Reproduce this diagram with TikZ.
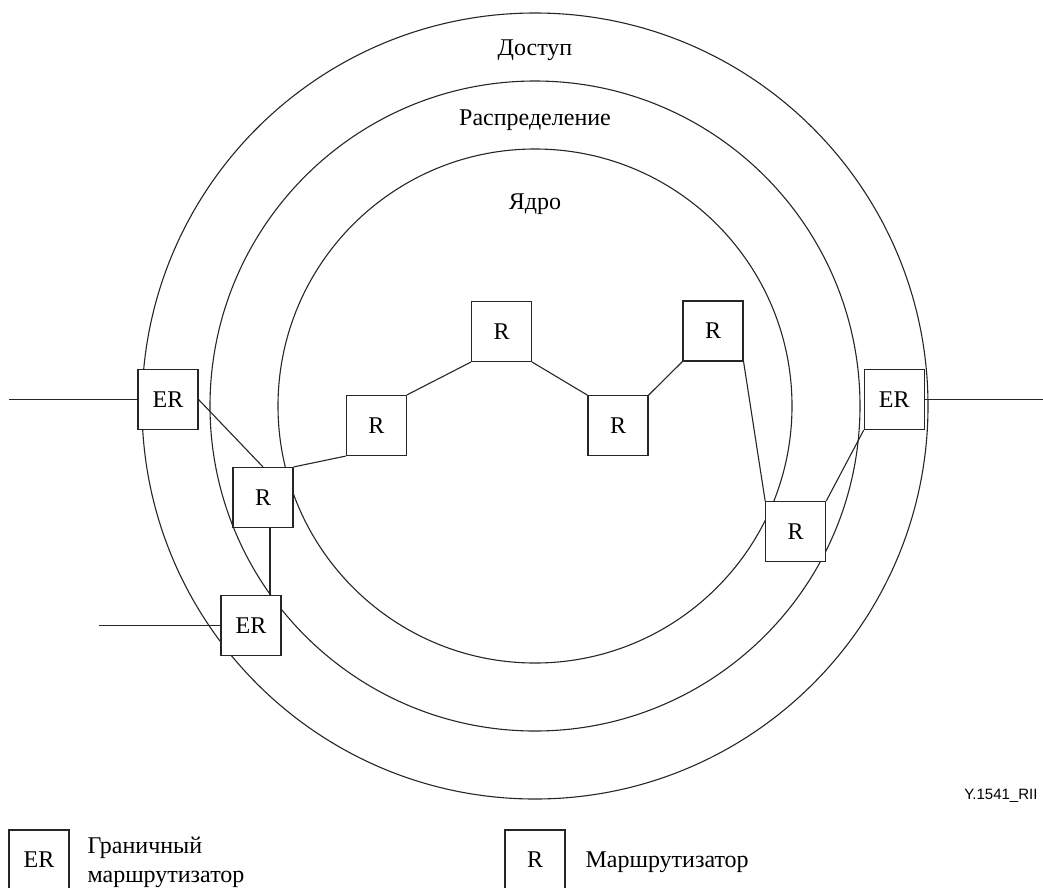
\documentclass[tikz,border=0pt]{standalone}
\usepackage{fontspec}
\setmainfont{Liberation Serif}
\newfontfamily\idfont{Liberation Sans}
\begin{document}
\begin{tikzpicture}[x=1pt,y=-1pt, line width=1.1pt, draw=black!85,
  font=\fontsize{24}{29}\selectfont,
  box/.style={draw=black!85, fill=white, minimum size=60pt, inner sep=0pt},
  lbl/.style={anchor=base, inner sep=0pt}]
\useasboundingbox (0,0) rectangle (1043,887);
% rings
\draw (535,406) circle[radius=393];
\draw (535,406) circle[radius=325];
\draw (535,406) circle[radius=257];
% ring labels
\node[lbl] (tA) at (535,55) {Доступ};
\node[lbl] (tD) at (535,125) {Распределение};
\node[lbl] (tC) at (535,209) {Ядро};
% routers
\node[box] (ER1) at (168,399.5) {ER};
\node[box] (R2) at (263,497.5) {R};
\node[box] (ER2) at (251,625.7) {ER};
\node[box] (R3) at (376.3,425.5) {R};
\node[box] (R4) at (501.5,331.5) {R};
\node[box] (R5) at (618,425.7) {R};
\node[box] (R6) at (713,331) {R};
\node[box] (R7) at (795.7,531.5) {R};
\node[box] (ER3) at (894.3,399.5) {ER};
% external links
\coordinate (inL) at (9,399.5);
\coordinate (inL2) at (99,625.7);
\coordinate (outR) at (1043,399.5);
\draw (inL) -- (ER1.west);
\draw (inL2) -- (ER2.west);
\draw (ER3.east) -- (outR);
% internal links
\draw (ER1.east) -- (R2.north);
\draw (R2.north east) -- (R3.south west);
\draw (R3.north east) -- (R4.south west);
\draw (R4.south east) -- (R5.north west);
\draw (R5.north east) -- (R6.south west);
\draw (R6.south east) -- (R7.north west);
\draw (R7.north east) -- (ER3.south west);
\coordinate (v) at ([xshift=7pt]R2.south);
\draw (v) -- (v |- ER2.north);
% figure id
\node[anchor=base east, inner sep=0pt, font=\idfont\fontsize{15}{18}\selectfont] (fid) at (1038,799) {Y.1541\_RII};
% legend
\node[box] (lgER) at (39,860) {ER};
\node[anchor=west, align=left, inner sep=0pt] (lgERt) at (87,862) {Граничный\\маршрутизатор};
\node[box] (lgR) at (535,860) {R};
\node[anchor=west, inner sep=0pt] (lgRt) at (585,862) {Маршрутизатор};
\end{tikzpicture}
\end{document}
